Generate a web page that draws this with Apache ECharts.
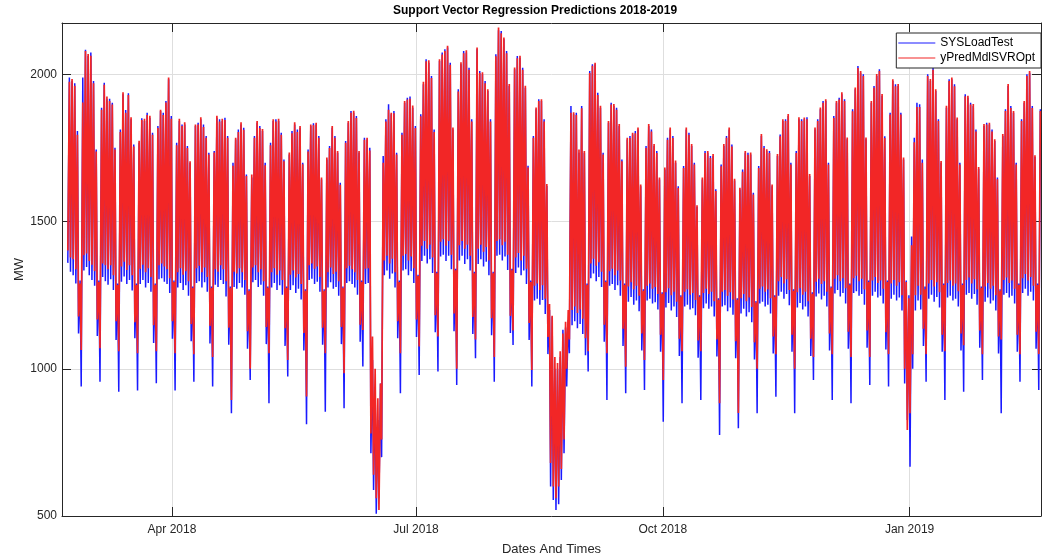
<!DOCTYPE html>
<html>
<head>
<meta charset="utf-8">
<script src="https://cdn.jsdelivr.net/npm/echarts@6/dist/echarts.min.js"></script>
<style>
  html, body { margin: 0; padding: 0; background: #ffffff; }
  #chart { width: 1043px; height: 560px; }
</style>
</head>
<body>
<div id="chart"></div>
<script>
// Daily system load (MW): one evening peak and one early-morning trough per day.
// Rows are calendar weeks Mon..Sun; the first row starts on Wed 21 Feb 2018,
// the last row is Mon 18 Feb 2019.
const firstDay = Date.UTC(2018, 1, 21);

const loadPeak = [
  1990,1978,1970,1808,1300,
  1990,2084,2063,2075,1978,1745,1300,
  1887,1972,1916,1918,1904,1751,1290,
  1813,1933,1879,1936,1848,1762,1290,
  1768,1851,1842,1870,1853,1802,1290,
  1825,1876,1870,1910,1984,1859,1300,
  1768,1842,1830,1830,1757,1700,1280,
  1825,1836,1848,1830,1791,1734,1280,
  1740,1853,1848,1842,1853,1791,1280,
  1700,1779,1813,1830,1819,1660,1270,
  1650,1791,1836,1825,1808,1700,1280,
  1768,1842,1848,1842,1802,1711,1280,
  1728,1808,1830,1813,1819,1700,1270,
  1745,1825,1834,1830,1791,1643,1270,
  1711,1757,1819,1791,1734,1632,1280,
  1774,1836,1876,1870,1859,1734,1300,
  1785,1779,1751,1030,930,826,950,
  1723,1848,1899,1865,1876,1734,1300,
  1802,1904,1921,1925,1887,1825,1320,
  1865,1967,2052,2040,1995,1813,1330,
  2046,2075,2086,2092,2040,1813,1340,
  1950,2035,2080,2075,2023,1848,1330,
  2086,2012,2001,1978,1944,1848,1330,
  2069,2150,2148,2120,2080,1961,1340,
  2018,2063,2057,2023,1955,1690,1300,
  1791,1882,1916,1910,1848,1621,1200,
  1178,1000,1000,1040,1133,1140,1166,
  1893,1865,1870,1734,1893,1734,1290,
  2012,2035,2035,1938,1887,1734,1300,
  1836,1904,1893,1887,1825,1711,1290,
  1779,1791,1796,1808,1813,1620,1270,
  1757,1825,1813,1757,1740,1643,1260,
  1677,1785,1813,1791,1700,1620,1250,
  1689,1813,1802,1757,1700,1550,1250,
  1643,1740,1734,1723,1723,1610,1240,
  1694,1757,1791,1813,1762,1640,1240,
  1609,1677,1734,1734,1728,1598,1230,
  1689,1791,1757,1740,1740,1620,1250,
  1723,1796,1842,1848,1859,1700,1270,
  1740,1848,1848,1848,1855,1655,1260,
  1813,1848,1882,1910,1910,1700,1280,
  1859,1904,1921,1933,1916,1780,1290,
  1882,1950,2029,2006,2001,1780,1300,
  1904,1961,1995,2018,1927,1790,1300,
  1870,1978,1967,1961,1870,1711,1300,
  1250,1450,1785,1904,1899,1711,1280,
  2001,1978,2023,1944,1848,1700,1290,
  1887,1984,1984,1967,1848,1700,1290,
  1933,1921,1904,1893,1813,1680,1280,
  1825,1836,1830,1813,1774,1650,1270,
  1791,1882,1961,1893,1870,1700,1290,
  1848,1904,2001,2006,1893,1720,1290,
  1882
];

const loadTrough = [
  1360,1330,1318,1290,1120,
  940,1334,1346,1318,1302,1282,1112,
  956,1312,1298,1286,1304,1268,1098,
  922,1296,1314,1288,1302,1266,1104,
  926,1288,1302,1276,1292,1262,1088,
  951,1304,1308,1296,1288,1258,1102,
  926,1276,1292,1268,1284,1248,1094,
  956,1292,1298,1276,1294,1262,1086,
  940,1286,1278,1302,1288,1246,1082,
  849,1278,1272,1292,1276,1252,1068,
  962,1294,1302,1278,1286,1248,1084,
  883,1276,1292,1268,1284,1252,1078,
  974,1268,1284,1258,1272,1236,1062,
  812,1302,1306,1288,1296,1262,1082,
  854,1276,1294,1272,1278,1248,1084,
  866,1292,1298,1288,1276,1252,1092,
  1008,1288,1292,713,588,508,560,
  700,1318,1334,1306,1324,1276,1104,
  917,1334,1338,1318,1332,1292,1108,
  979,1366,1384,1358,1372,1326,1124,
  991,1382,1388,1366,1384,1338,1128,
  945,1368,1384,1356,1372,1334,1118,
  1036,1356,1372,1348,1364,1318,1114,
  956,1384,1388,1368,1382,1336,1122,
  1081,1326,1344,1318,1334,1288,1098,
  940,1232,1238,1218,1234,1186,1050,
  600,554,520,540,622,713,940,
  1053,1148,1162,1138,1152,1118,1046,
  991,1308,1324,1298,1312,1278,1092,
  894,1282,1288,1268,1284,1248,1078,
  917,1228,1244,1218,1232,1196,1062,
  928,1232,1238,1222,1226,1202,1058,
  820,1208,1224,1198,1212,1176,1044,
  883,1212,1218,1202,1206,1182,1038,
  894,1206,1222,1204,1212,1178,1042,
  775,1212,1216,1196,1208,1184,1036,
  798,1188,1204,1178,1192,1158,1032,
  849,1222,1228,1212,1218,1188,1052,
  905,1248,1262,1238,1254,1216,1058,
  849,1208,1224,1202,1212,1178,1044,
  962,1246,1256,1236,1248,1212,1062,
  894,1256,1268,1246,1258,1222,1068,
  883,1258,1264,1248,1254,1218,1072,
  945,1248,1262,1242,1248,1222,1066,
  940,1238,1252,1232,1242,1198,950,
  826,667,1000,1198,1232,1202,1078,
  956,1238,1252,1228,1244,1208,1058,
  894,1242,1248,1232,1238,1212,1062,
  922,1252,1258,1238,1254,1218,1072,
  962,1228,1242,1222,1232,1198,1052,
  849,1252,1258,1242,1248,1222,1058,
  956,1258,1272,1248,1262,1232,1068,
  928
];

const predPeak = [
  1975,1985,1962,1795,1290,
  1905,2080,2070,2064,1970,1738,1295,
  1880,1965,1925,1910,1898,1745,1285,
  1805,1940,1870,1930,1855,1755,1285,
  1775,1845,1850,1862,1860,1795,1285,
  1818,1880,1862,1905,1990,1850,1295,
  1760,1850,1825,1838,1750,1705,1275,
  1830,1830,1855,1822,1785,1728,1275,
  1735,1860,1840,1850,1845,1785,1275,
  1690,1785,1805,1838,1812,1655,1265,
  1660,1785,1842,1818,1815,1692,1275,
  1760,1848,1840,1850,1795,1705,1275,
  1735,1800,1838,1805,1825,1695,1265,
  1738,1830,1828,1836,1785,1650,1265,
  1718,1750,1825,1785,1740,1625,1275,
  1768,1842,1870,1877,1852,1740,1295,
  1778,1785,1742,1110,1000,900,950,
  1700,1840,1880,1870,1868,1728,1295,
  1795,1910,1915,1918,1895,1818,1315,
  1858,1975,2045,2048,1988,1805,1325,
  2052,2068,2080,2098,2033,1820,1335,
  1942,2042,2072,2082,2016,1840,1325,
  2092,2005,2008,1970,1950,1840,1325,
  2062,2160,2140,2126,2072,1968,1335,
  2024,2055,2064,2016,1962,1684,1295,
  1785,1888,1910,1916,1840,1628,1220,
  1180,1040,1020,1060,1120,1160,1200,
  1870,1872,1862,1745,1885,1740,1285,
  2005,2030,2040,1930,1894,1728,1295,
  1842,1898,1900,1880,1832,1705,1285,
  1785,1784,1802,1800,1820,1626,1265,
  1750,1832,1806,1764,1733,1650,1255,
  1684,1778,1820,1784,1708,1614,1245,
  1682,1820,1795,1764,1694,1556,1245,
  1650,1733,1740,1716,1730,1604,1235,
  1688,1764,1785,1820,1755,1646,1235,
  1615,1670,1740,1727,1735,1592,1225,
  1682,1798,1750,1746,1733,1626,1245,
  1730,1790,1848,1842,1866,1694,1265,
  1733,1855,1842,1854,1848,1662,1255,
  1820,1842,1888,1904,1916,1694,1275,
  1852,1910,1915,1940,1910,1786,1285,
  1875,1956,2022,2012,1995,1786,1295,
  1910,1955,2002,2012,1934,1784,1295,
  1864,1984,1960,1968,1864,1718,1295,
  1240,1420,1770,1890,1890,1700,1270,
  1995,1985,2016,1950,1842,1706,1285,
  1894,1978,1990,1960,1854,1694,1285,
  1926,1928,1898,1900,1806,1686,1275,
  1832,1830,1836,1806,1780,1644,1265,
  1798,1876,1968,1886,1876,1694,1285,
  1842,1910,1995,2012,1886,1726,1285,
  1876
];

const predTrough = [
  1402,1378,1372,1338,1178,
  1064,1386,1392,1366,1354,1332,1168,
  1070,1358,1352,1338,1352,1318,1162,
  1060,1348,1364,1336,1352,1318,1158,
  1053,1340,1354,1328,1342,1312,1148,
  1060,1352,1358,1348,1338,1308,1162,
  1053,1328,1342,1320,1332,1298,1152,
  1050,1342,1350,1328,1344,1312,1146,
  1040,1338,1330,1352,1338,1298,1140,
  894,1330,1324,1342,1328,1302,1128,
  1000,1344,1352,1328,1338,1298,1142,
  1053,1328,1342,1320,1334,1302,1138,
  1030,1320,1334,1310,1322,1288,1122,
  906,1352,1358,1340,1348,1312,1140,
  1053,1328,1344,1322,1330,1298,1142,
  985,1342,1350,1338,1328,1302,1150,
  1132,1340,1342,780,640,560,520,
  760,1368,1384,1358,1374,1328,1162,
  1053,1384,1390,1368,1382,1342,1168,
  1076,1418,1434,1408,1422,1378,1182,
  1110,1432,1440,1418,1434,1388,1188,
  1000,1420,1434,1408,1422,1384,1176,
  1100,1408,1422,1398,1414,1368,1172,
  1040,1434,1440,1420,1432,1388,1180,
  1130,1378,1394,1368,1384,1340,1156,
  996,1282,1290,1268,1284,1238,1108,
  680,600,560,600,660,760,1000,
  1100,1200,1212,1190,1202,1170,1104,
  1060,1358,1374,1350,1362,1330,1150,
  1053,1332,1340,1318,1334,1300,1136,
  1007,1280,1294,1270,1282,1248,1120,
  1030,1282,1290,1272,1278,1254,1116,
  962,1260,1274,1250,1262,1228,1102,
  1060,1262,1270,1252,1258,1234,1096,
  1060,1258,1272,1254,1262,1230,1100,
  883,1262,1268,1248,1260,1236,1094,
  850,1240,1254,1230,1242,1210,1090,
  1000,1272,1280,1262,1270,1240,1110,
  1050,1298,1312,1290,1304,1268,1116,
  1000,1260,1274,1252,1262,1230,1102,
  1040,1296,1306,1288,1298,1262,1120,
  1050,1306,1318,1298,1308,1274,1126,
  1040,1308,1316,1298,1306,1270,1130,
  1040,1300,1312,1292,1300,1272,1124,
  1050,1290,1302,1282,1294,1250,1000,
  792,849,1050,1250,1282,1252,1136,
  1050,1290,1302,1280,1294,1260,1116,
  1060,1292,1300,1282,1290,1264,1120,
  1080,1302,1310,1290,1304,1270,1130,
  1050,1280,1292,1272,1282,1250,1110,
  1100,1302,1310,1292,1300,1272,1116,
  1050,1308,1322,1300,1312,1282,1126,
  1050
];

// Axis ticks
const xTickDates = [Date.UTC(2018, 3, 1), Date.UTC(2018, 6, 1), Date.UTC(2018, 9, 1), Date.UTC(2019, 0, 1)];
const xTickLabels = ['Apr 2018', 'Jul 2018', 'Oct 2018', 'Jan 2019'];
const yTicks = [500, 1000, 1500, 2000];

const HOUR = 3600 * 1000;
const DAY = 24 * HOUR;

// Trough at 04:00 and peak at 18:00 of each day
function dailyPoints(peaks, troughs) {
  const pts = [];
  for (let i = 0; i < peaks.length; i++) {
    const day = firstDay + i * DAY;
    pts.push([day + 4 * HOUR, troughs[i]]);
    pts.push([day + 18 * HOUR, peaks[i]]);
  }
  return pts;
}

const FONT = '"Liberation Sans", Arial, Helvetica, sans-serif';
const AXIS_COLOR = '#262626';
const GRID_COLOR = '#dedede';

const xMin = Date.UTC(2018, 1, 19);
const xMax = Date.UTC(2019, 1, 19);

const chart = echarts.init(document.getElementById('chart'), null, { renderer: 'canvas' });

chart.setOption({
  animation: false,
  backgroundColor: '#ffffff',
  textStyle: { fontFamily: FONT },
  title: {
    text: 'Support Vector Regression Predictions 2018-2019',
    left: 393,
    top: 5,
    padding: 0,
    textStyle: { fontSize: 12, fontWeight: 'bold', color: '#000000', fontFamily: FONT }
  },
  legend: {
    right: 2,
    top: 33,
    orient: 'vertical',
    backgroundColor: '#ffffff',
    borderColor: AXIS_COLOR,
    borderWidth: 1,
    borderRadius: 0,
    padding: [3, 6, 3, 2],
    itemGap: 1,
    itemWidth: 37,
    itemHeight: 1,
    itemTextGap: 4,
    icon: 'rect',
    textStyle: { fontSize: 12, color: '#000000', fontFamily: FONT, lineHeight: 14 },
    data: ['SYSLoadTest', 'yPredMdlSVROpt']
  },
  grid: { left: 62, right: 2, top: 23, bottom: 44, containLabel: false, outerBoundsMode: 'none' },
  xAxis: [
    {
      type: 'value',
      min: xMin,
      max: xMax,
      name: 'Dates And Times',
      nameLocation: 'middle',
      nameGap: 27,
      nameMoveOverlap: false,
      nameTextStyle: { fontSize: 13, color: AXIS_COLOR, fontFamily: FONT },
      axisLine: { show: true, onZero: false, lineStyle: { color: AXIS_COLOR, width: 1 } },
      axisTick: { show: true, inside: true, length: 9, customValues: xTickDates, lineStyle: { color: AXIS_COLOR } },
      axisLabel: {
        show: true,
        customValues: xTickDates,
        margin: 8,
        fontSize: 12,
        color: AXIS_COLOR,
        fontFamily: FONT,
        formatter: function (v) {
          const i = xTickDates.indexOf(v);
          return i >= 0 ? xTickLabels[i] : '';
        }
      },
      splitLine: { show: true, lineStyle: { color: GRID_COLOR, width: 1 } }
    },
    {
      type: 'value',
      position: 'top',
      min: xMin,
      max: xMax,
      axisLine: { show: true, onZero: false, lineStyle: { color: AXIS_COLOR, width: 1 } },
      axisTick: { show: true, inside: true, length: 9, customValues: xTickDates, lineStyle: { color: AXIS_COLOR } },
      axisLabel: { show: false },
      splitLine: { show: false }
    }
  ],
  yAxis: [
    {
      type: 'value',
      min: 500,
      max: 2175,
      name: 'MW',
      nameLocation: 'middle',
      nameGap: 36,
      nameMoveOverlap: false,
      nameTextStyle: { fontSize: 13, color: AXIS_COLOR, fontFamily: FONT },
      axisLine: { show: true, onZero: false, lineStyle: { color: AXIS_COLOR, width: 1 } },
      axisTick: { show: true, inside: true, length: 9, customValues: yTicks, lineStyle: { color: AXIS_COLOR } },
      axisLabel: {
        show: true, customValues: yTicks, margin: 5, fontSize: 12, color: AXIS_COLOR, fontFamily: FONT,
        formatter: function (v) { return String(v); }
      },
      splitLine: { show: true, lineStyle: { color: GRID_COLOR, width: 1 } }
    },
    {
      type: 'value',
      position: 'right',
      min: 500,
      max: 2175,
      axisLine: { show: true, onZero: false, lineStyle: { color: AXIS_COLOR, width: 1 } },
      axisTick: { show: true, inside: true, length: 9, customValues: yTicks, lineStyle: { color: AXIS_COLOR } },
      axisLabel: { show: false },
      splitLine: { show: false }
    }
  ],
  series: [
    {
      name: 'SYSLoadTest',
      type: 'line',
      xAxisIndex: 0,
      yAxisIndex: 0,
      data: dailyPoints(loadPeak, loadTrough),
      showSymbol: false,
      symbol: 'none',
      color: '#1a1aff',
      lineStyle: { color: '#1a1aff', width: 1.5 },
      z: 2
    },
    {
      name: 'yPredMdlSVROpt',
      type: 'line',
      xAxisIndex: 0,
      yAxisIndex: 0,
      data: dailyPoints(predPeak, predTrough),
      showSymbol: false,
      symbol: 'none',
      color: '#f22626',
      lineStyle: { color: '#f22626', width: 1.7 },
      z: 3
    }
  ]
});
</script>
</body>
</html>
